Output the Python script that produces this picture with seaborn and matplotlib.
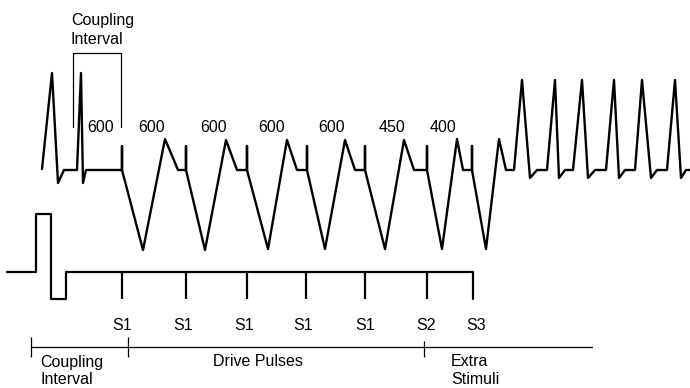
import matplotlib
matplotlib.use("Agg")
import matplotlib.pyplot as plt
import seaborn as sns

# upper trace (ECG), diagram units: x = time, y = screen-down amplitude
ecg_x = [42, 52, 58, 64, 77, 81, 83, 86, 122, 122, 122,
         143, 165, 178, 186, 186, 186,
         205, 226, 237, 247, 247, 247,
         268, 287, 297, 307, 307, 307,
         325, 345, 355, 365, 365, 365,
         385, 404, 414, 427, 427, 427,
         442, 457, 463, 472, 472, 472,
         486, 499, 506, 514,
         522, 530, 537, 547, 555, 559, 565, 573, 582, 588, 595, 606,
         614, 619, 625, 635, 642, 651, 657, 667, 675, 681, 686, 695]
ecg_y = [169, 73, 183, 170, 170, 73, 183, 170, 170, 146, 170,
         250, 139, 170, 170, 146, 170,
         250, 140, 170, 170, 146, 170,
         249, 140, 170, 170, 146, 170,
         249, 140, 170, 170, 146, 170,
         249, 140, 170, 170, 146, 170,
         249, 139, 170, 170, 146, 170,
         249, 139, 170, 170,
         80, 178, 170, 170, 80, 178, 170, 170, 80, 178, 170, 170,
         80, 178, 170, 170, 80, 178, 170, 170, 80, 178, 170, 170]

# lower trace (stimulator output)
stim_x = [7, 36, 36, 51, 51, 66, 66, 473, 473]
stim_y = [272, 272, 214, 214, 299, 299, 272, 272, 299]
pulse_x = [122, 186, 247, 306, 365, 427]
pulse_labels = ["S1", "S1", "S1", "S1", "S1", "S2", "S3"]
pulse_label_x = [122, 183, 244, 303, 365, 426, 476]

interval_labels = ["600", "600", "600", "600", "600", "450", "400"]
interval_x = [101, 152, 214, 272, 332, 392, 443]

FONT = "Liberation Sans"
FS = 11.5

sns.set_theme(style="white")
plt.rcParams["font.family"] = [FONT, "DejaVu Sans"]
plt.rcParams["text.color"] = "black"

fig = plt.figure(figsize=(6.9, 3.88), dpi=100)
ax = fig.add_axes([0, 0, 1, 1])
ax.set_xlim(0, 690)
ax.set_ylim(388, 0)
ax.axis("off")

sns.lineplot(x=ecg_x, y=ecg_y, sort=False, estimator=None, color="black",
             lw=1.7, ax=ax)
sns.lineplot(x=stim_x, y=stim_y, sort=False, estimator=None, color="black",
             lw=1.6, ax=ax)
ax.vlines(pulse_x, 272, 299, color="black", lw=1.6)

# coupling interval bracket on top
ax.plot([73, 73, 121, 121], [127, 53, 53, 127], color="black", lw=0.9)
ax.text(71, 21, "Coupling", fontsize=FS, ha="left", va="center")
ax.text(71, 40, "Interval", fontsize=FS, ha="left", va="center")

for lx, lab in zip(interval_x, interval_labels):
    ax.text(lx, 127, lab, fontsize=FS, ha="center", va="center")

for lx, lab in zip(pulse_label_x, pulse_labels):
    ax.text(lx, 325, lab, fontsize=FS, ha="center", va="center")

# bottom timeline
ax.plot([31, 592], [347, 347], color="black", lw=0.9)
ax.vlines([31, 128], 337, 357, color="black", lw=0.9)
ax.vlines([424], 341, 357, color="black", lw=0.9)
ax.text(40, 362, "Coupling", fontsize=FS, ha="left", va="center")
ax.text(40, 380, "Interval", fontsize=FS, ha="left", va="center")
ax.text(258, 362, "Drive Pulses", fontsize=FS, ha="center", va="center")
ax.text(451, 362, "Extra", fontsize=FS, ha="left", va="center")
ax.text(451, 380, "Stimuli", fontsize=FS, ha="left", va="center")

fig.savefig("out.png", dpi=100, facecolor="white")
